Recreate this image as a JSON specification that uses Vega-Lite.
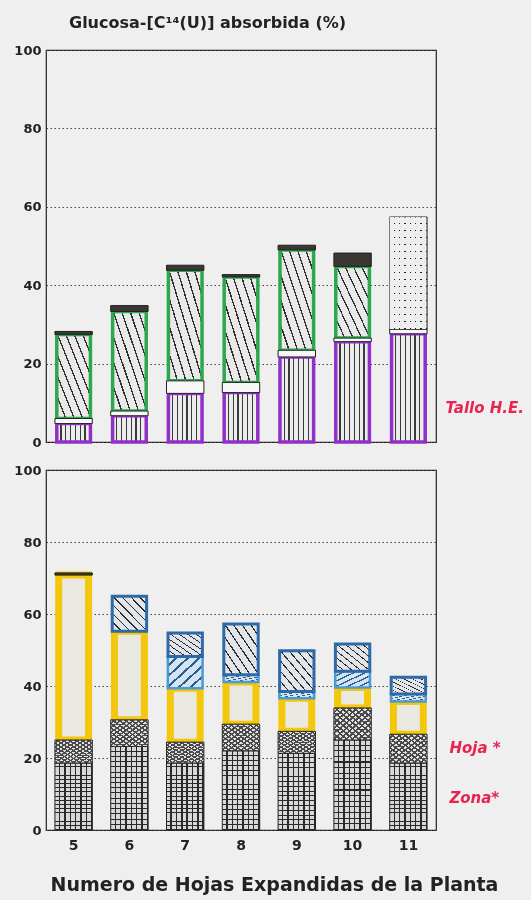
{
  "$schema": "https://vega.github.io/schema/vega-lite/v6.json",
  "background": "#efefef",
  "padding": {"left": 13, "top": 14, "right": 6, "bottom": 5},
  "bounds": "flush",
  "spacing": 28,
  "config": {
    "font": "DejaVu Sans",
    "view": {"stroke": "#222222", "strokeWidth": 1.2},
    "axisY": {"grid": true, "gridDash": [1.5, 2.5], "gridColor": "#444444", "gridWidth": 1, "domain": false, "ticks": false, "tickCount": 5, "labelFont": "DejaVu Sans", "labelFontSize": 13, "labelFontWeight": "bold", "labelColor": "#222222", "labelPadding": 5},
    "axisX": {"domain": false, "ticks": false, "grid": false, "labelFont": "DejaVu Sans", "labelFontSize": 14, "labelFontWeight": "bold", "labelColor": "#222222", "labelPadding": 8, "labelAngle": 0, "titleFont": "DejaVu Sans", "titleFontSize": 19, "titleFontWeight": "bold", "titleColor": "#222222", "titlePadding": 23}
  },
  "datasets": {
    "arriba": [
      {"hojas": 5, "comp": "vertical", "orden": 1, "valor": 4.7},
      {"hojas": 5, "comp": "blanco", "orden": 2, "valor": 1.3},
      {"hojas": 5, "comp": "diagonal", "orden": 3, "valor": 21.4},
      {"hojas": 5, "comp": "negro", "orden": 5, "valor": 0.8},
      {"hojas": 6, "comp": "vertical", "orden": 1, "valor": 6.7},
      {"hojas": 6, "comp": "blanco", "orden": 2, "valor": 1.2},
      {"hojas": 6, "comp": "diagonal", "orden": 3, "valor": 25.4},
      {"hojas": 6, "comp": "negro", "orden": 5, "valor": 1.5},
      {"hojas": 7, "comp": "vertical", "orden": 1, "valor": 12.4},
      {"hojas": 7, "comp": "blanco", "orden": 2, "valor": 3.2},
      {"hojas": 7, "comp": "diagonal", "orden": 3, "valor": 28.2},
      {"hojas": 7, "comp": "negro", "orden": 5, "valor": 1.3},
      {"hojas": 8, "comp": "vertical", "orden": 1, "valor": 12.6},
      {"hojas": 8, "comp": "blanco", "orden": 2, "valor": 2.6},
      {"hojas": 8, "comp": "diagonal", "orden": 3, "valor": 26.9},
      {"hojas": 8, "comp": "negro", "orden": 5, "valor": 0.6},
      {"hojas": 9, "comp": "vertical", "orden": 1, "valor": 21.7},
      {"hojas": 9, "comp": "blanco", "orden": 2, "valor": 1.7},
      {"hojas": 9, "comp": "diagonal", "orden": 3, "valor": 25.6},
      {"hojas": 9, "comp": "negro", "orden": 5, "valor": 1.2},
      {"hojas": 10, "comp": "vertical", "orden": 1, "valor": 25.6},
      {"hojas": 10, "comp": "blanco", "orden": 2, "valor": 0.9},
      {"hojas": 10, "comp": "diagonal", "orden": 3, "valor": 18.3},
      {"hojas": 10, "comp": "negro", "orden": 5, "valor": 3.4},
      {"hojas": 11, "comp": "vertical", "orden": 1, "valor": 27.6},
      {"hojas": 11, "comp": "blanco", "orden": 2, "valor": 1.2},
      {"hojas": 11, "comp": "punteado", "orden": 4, "valor": 28.6}
    ],
    "abajo": [
      {"hojas": 5, "comp": "cuadricula", "orden": 1, "valor": 18.6},
      {"hojas": 5, "comp": "tramado", "orden": 2, "valor": 6.4},
      {"hojas": 5, "comp": "amarillo", "orden": 3, "valor": 45.8},
      {"hojas": 5, "comp": "negro", "orden": 6, "valor": 0.6},
      {"hojas": 6, "comp": "cuadricula", "orden": 1, "valor": 23.2},
      {"hojas": 6, "comp": "tramado", "orden": 2, "valor": 7.4},
      {"hojas": 6, "comp": "amarillo", "orden": 3, "valor": 24.6},
      {"hojas": 6, "comp": "azul", "orden": 5, "valor": 9.7},
      {"hojas": 7, "comp": "cuadricula", "orden": 1, "valor": 18.6},
      {"hojas": 7, "comp": "tramado", "orden": 2, "valor": 5.8},
      {"hojas": 7, "comp": "amarillo", "orden": 3, "valor": 15.0},
      {"hojas": 7, "comp": "celeste", "orden": 4, "valor": 8.8},
      {"hojas": 7, "comp": "azul", "orden": 5, "valor": 6.5},
      {"hojas": 8, "comp": "cuadricula", "orden": 1, "valor": 22.0},
      {"hojas": 8, "comp": "tramado", "orden": 2, "valor": 7.4},
      {"hojas": 8, "comp": "amarillo", "orden": 3, "valor": 11.7},
      {"hojas": 8, "comp": "celeste", "orden": 4, "valor": 2.0},
      {"hojas": 8, "comp": "azul", "orden": 5, "valor": 14.1},
      {"hojas": 9, "comp": "cuadricula", "orden": 1, "valor": 21.3},
      {"hojas": 9, "comp": "tramado", "orden": 2, "valor": 6.1},
      {"hojas": 9, "comp": "amarillo", "orden": 3, "valor": 9.2},
      {"hojas": 9, "comp": "celeste", "orden": 4, "valor": 1.9},
      {"hojas": 9, "comp": "azul", "orden": 5, "valor": 11.3},
      {"hojas": 10, "comp": "cuadricula", "orden": 1, "valor": 25.0},
      {"hojas": 10, "comp": "tramado", "orden": 2, "valor": 8.9},
      {"hojas": 10, "comp": "amarillo", "orden": 3, "valor": 5.7},
      {"hojas": 10, "comp": "celeste", "orden": 4, "valor": 4.5},
      {"hojas": 10, "comp": "azul", "orden": 5, "valor": 7.6},
      {"hojas": 11, "comp": "cuadricula", "orden": 1, "valor": 18.6},
      {"hojas": 11, "comp": "tramado", "orden": 2, "valor": 8.0},
      {"hojas": 11, "comp": "amarillo", "orden": 3, "valor": 9.1},
      {"hojas": 11, "comp": "celeste", "orden": 4, "valor": 2.1},
      {"hojas": 11, "comp": "azul", "orden": 5, "valor": 4.6}
    ]
  },
  "vconcat": [
    {
      "width": 390,
      "height": 392,
      "title": {"text": "Glucosa-[C¹⁴(U)] absorbida (%)", "anchor": "start", "frame": "group", "dx": 23, "offset": 0, "baseline": "alphabetic", "font": "DejaVu Sans", "fontSize": 16, "fontWeight": "bold", "color": "#222222"},
      "encoding": {"x": {"field": "hojas", "type": "ordinal", "scale": {"paddingInner": 0.33, "paddingOuter": 0.16}, "axis": null}},
      "layer": [
        {
          "data": {"name": "arriba"},
          "transform": [{"stack": "valor", "groupby": ["hojas"], "sort": [{"field": "orden", "order": "ascending"}], "as": ["y0", "y1"]}, {"filter": "datum.comp === 'vertical'"}],
          "mark": {"type": "bar", "width": {"band": 0.9}, "stroke": "#9130c8", "strokeWidth": 3.5,
            "fill": {"gradient": "linear", "x1": 0, "y1": 0, "x2": 1, "y2": 0, "stops": [{"offset":0,"color":"#ececec"},{"offset":0.105,"color":"#ececec"},{"offset":0.105,"color":"#3a3a3a"},{"offset":0.1429,"color":"#3a3a3a"},{"offset":0.1429,"color":"#ececec"},{"offset":0.2479,"color":"#ececec"},{"offset":0.2479,"color":"#3a3a3a"},{"offset":0.2857,"color":"#3a3a3a"},{"offset":0.2857,"color":"#ececec"},{"offset":0.3907,"color":"#ececec"},{"offset":0.3907,"color":"#3a3a3a"},{"offset":0.4286,"color":"#3a3a3a"},{"offset":0.4286,"color":"#ececec"},{"offset":0.5336,"color":"#ececec"},{"offset":0.5336,"color":"#3a3a3a"},{"offset":0.5714,"color":"#3a3a3a"},{"offset":0.5714,"color":"#ececec"},{"offset":0.6764,"color":"#ececec"},{"offset":0.6764,"color":"#3a3a3a"},{"offset":0.7143,"color":"#3a3a3a"},{"offset":0.7143,"color":"#ececec"},{"offset":0.8193,"color":"#ececec"},{"offset":0.8193,"color":"#3a3a3a"},{"offset":0.8571,"color":"#3a3a3a"},{"offset":0.8571,"color":"#ececec"},{"offset":0.9621,"color":"#ececec"},{"offset":0.9621,"color":"#3a3a3a"},{"offset":1,"color":"#3a3a3a"}]}},
          "encoding": {"y": {"field": "y1", "type": "quantitative", "scale": {"domain": [0, 100], "nice": false}, "axis": {"title": null}}, "y2": {"field": "y0"}}
        },
        {
          "data": {"name": "arriba"},
          "transform": [{"stack": "valor", "groupby": ["hojas"], "sort": [{"field": "orden", "order": "ascending"}], "as": ["y0", "y1"]}, {"filter": "datum.comp === 'diagonal'"}],
          "mark": {"type": "bar", "width": {"band": 0.9}, "stroke": "#2ea84e", "strokeWidth": 3.5,
            "fill": {"gradient": "linear", "x1": 1, "y1": 0, "x2": 0, "y2": 1, "stops": [{"offset":0,"color":"#e9e9e9"},{"offset":0.104,"color":"#e9e9e9"},{"offset":0.104,"color":"#303030"},{"offset":0.125,"color":"#303030"},{"offset":0.125,"color":"#e9e9e9"},{"offset":0.229,"color":"#e9e9e9"},{"offset":0.229,"color":"#303030"},{"offset":0.25,"color":"#303030"},{"offset":0.25,"color":"#e9e9e9"},{"offset":0.354,"color":"#e9e9e9"},{"offset":0.354,"color":"#303030"},{"offset":0.375,"color":"#303030"},{"offset":0.375,"color":"#e9e9e9"},{"offset":0.479,"color":"#e9e9e9"},{"offset":0.479,"color":"#303030"},{"offset":0.5,"color":"#303030"},{"offset":0.5,"color":"#e9e9e9"},{"offset":0.604,"color":"#e9e9e9"},{"offset":0.604,"color":"#303030"},{"offset":0.625,"color":"#303030"},{"offset":0.625,"color":"#e9e9e9"},{"offset":0.729,"color":"#e9e9e9"},{"offset":0.729,"color":"#303030"},{"offset":0.75,"color":"#303030"},{"offset":0.75,"color":"#e9e9e9"},{"offset":0.854,"color":"#e9e9e9"},{"offset":0.854,"color":"#303030"},{"offset":0.875,"color":"#303030"},{"offset":0.875,"color":"#e9e9e9"},{"offset":0.979,"color":"#e9e9e9"},{"offset":0.979,"color":"#303030"},{"offset":1,"color":"#303030"}]}},
          "encoding": {"y": {"field": "y1", "type": "quantitative", "scale": {"domain": [0, 100], "nice": false}, "axis": {"title": null}}, "y2": {"field": "y0"}}
        },
        {
          "data": {"name": "arriba"},
          "transform": [{"stack": "valor", "groupby": ["hojas"], "sort": [{"field": "orden", "order": "ascending"}], "as": ["y0", "y1"]}, {"filter": "datum.comp === 'blanco'"}],
          "mark": {"type": "bar", "fill": "#f7f7f7", "stroke": "#222222", "strokeWidth": 1},
          "encoding": {"y": {"field": "y1", "type": "quantitative", "scale": {"domain": [0, 100], "nice": false}, "axis": {"title": null}}, "y2": {"field": "y0"}}
        },
        {
          "data": {"name": "arriba"},
          "transform": [{"stack": "valor", "groupby": ["hojas"], "sort": [{"field": "orden", "order": "ascending"}], "as": ["y0", "y1"]}, {"filter": "datum.comp === 'punteado'"}],
          "mark": {"type": "bar", "stroke": "#222222", "strokeWidth": 1,
            "fill": {"gradient": "linear", "x1": 0, "y1": 0, "x2": 0, "y2": 1, "stops": [{"offset":0,"color":"#eeeeee"},{"offset":0.05,"color":"#eeeeee"},{"offset":0.05,"color":"#1e1e1e"},{"offset":0.0625,"color":"#1e1e1e"},{"offset":0.0625,"color":"#eeeeee"},{"offset":0.1125,"color":"#eeeeee"},{"offset":0.1125,"color":"#1e1e1e"},{"offset":0.125,"color":"#1e1e1e"},{"offset":0.125,"color":"#eeeeee"},{"offset":0.175,"color":"#eeeeee"},{"offset":0.175,"color":"#1e1e1e"},{"offset":0.1875,"color":"#1e1e1e"},{"offset":0.1875,"color":"#eeeeee"},{"offset":0.2375,"color":"#eeeeee"},{"offset":0.2375,"color":"#1e1e1e"},{"offset":0.25,"color":"#1e1e1e"},{"offset":0.25,"color":"#eeeeee"},{"offset":0.3,"color":"#eeeeee"},{"offset":0.3,"color":"#1e1e1e"},{"offset":0.3125,"color":"#1e1e1e"},{"offset":0.3125,"color":"#eeeeee"},{"offset":0.3625,"color":"#eeeeee"},{"offset":0.3625,"color":"#1e1e1e"},{"offset":0.375,"color":"#1e1e1e"},{"offset":0.375,"color":"#eeeeee"},{"offset":0.425,"color":"#eeeeee"},{"offset":0.425,"color":"#1e1e1e"},{"offset":0.4375,"color":"#1e1e1e"},{"offset":0.4375,"color":"#eeeeee"},{"offset":0.4875,"color":"#eeeeee"},{"offset":0.4875,"color":"#1e1e1e"},{"offset":0.5,"color":"#1e1e1e"},{"offset":0.5,"color":"#eeeeee"},{"offset":0.55,"color":"#eeeeee"},{"offset":0.55,"color":"#1e1e1e"},{"offset":0.5625,"color":"#1e1e1e"},{"offset":0.5625,"color":"#eeeeee"},{"offset":0.6125,"color":"#eeeeee"},{"offset":0.6125,"color":"#1e1e1e"},{"offset":0.625,"color":"#1e1e1e"},{"offset":0.625,"color":"#eeeeee"},{"offset":0.675,"color":"#eeeeee"},{"offset":0.675,"color":"#1e1e1e"},{"offset":0.6875,"color":"#1e1e1e"},{"offset":0.6875,"color":"#eeeeee"},{"offset":0.7375,"color":"#eeeeee"},{"offset":0.7375,"color":"#1e1e1e"},{"offset":0.75,"color":"#1e1e1e"},{"offset":0.75,"color":"#eeeeee"},{"offset":0.8,"color":"#eeeeee"},{"offset":0.8,"color":"#1e1e1e"},{"offset":0.8125,"color":"#1e1e1e"},{"offset":0.8125,"color":"#eeeeee"},{"offset":0.8625,"color":"#eeeeee"},{"offset":0.8625,"color":"#1e1e1e"},{"offset":0.875,"color":"#1e1e1e"},{"offset":0.875,"color":"#eeeeee"},{"offset":0.925,"color":"#eeeeee"},{"offset":0.925,"color":"#1e1e1e"},{"offset":0.9375,"color":"#1e1e1e"},{"offset":0.9375,"color":"#eeeeee"},{"offset":0.9875,"color":"#eeeeee"},{"offset":0.9875,"color":"#1e1e1e"},{"offset":1,"color":"#1e1e1e"}]}},
          "encoding": {"y": {"field": "y1", "type": "quantitative", "scale": {"domain": [0, 100], "nice": false}, "axis": {"title": null}}, "y2": {"field": "y0"}}
        },
        {
          "data": {"name": "arriba"},
          "transform": [{"stack": "valor", "groupby": ["hojas"], "sort": [{"field": "orden", "order": "ascending"}], "as": ["y0", "y1"]}, {"filter": "datum.comp === 'punteado'"}],
          "mark": {"type": "bar", "blend": "lighten",
            "fill": {"gradient": "linear", "x1": 0, "y1": 0, "x2": 1, "y2": 0, "stops": [{"offset":0,"color":"#eeeeee"},{"offset":0.105,"color":"#eeeeee"},{"offset":0.105,"color":"#1e1e1e"},{"offset":0.1429,"color":"#1e1e1e"},{"offset":0.1429,"color":"#eeeeee"},{"offset":0.2479,"color":"#eeeeee"},{"offset":0.2479,"color":"#1e1e1e"},{"offset":0.2857,"color":"#1e1e1e"},{"offset":0.2857,"color":"#eeeeee"},{"offset":0.3907,"color":"#eeeeee"},{"offset":0.3907,"color":"#1e1e1e"},{"offset":0.4286,"color":"#1e1e1e"},{"offset":0.4286,"color":"#eeeeee"},{"offset":0.5336,"color":"#eeeeee"},{"offset":0.5336,"color":"#1e1e1e"},{"offset":0.5714,"color":"#1e1e1e"},{"offset":0.5714,"color":"#eeeeee"},{"offset":0.6764,"color":"#eeeeee"},{"offset":0.6764,"color":"#1e1e1e"},{"offset":0.7143,"color":"#1e1e1e"},{"offset":0.7143,"color":"#eeeeee"},{"offset":0.8193,"color":"#eeeeee"},{"offset":0.8193,"color":"#1e1e1e"},{"offset":0.8571,"color":"#1e1e1e"},{"offset":0.8571,"color":"#eeeeee"},{"offset":0.9621,"color":"#eeeeee"},{"offset":0.9621,"color":"#1e1e1e"},{"offset":1,"color":"#1e1e1e"}]}},
          "encoding": {"y": {"field": "y1", "type": "quantitative", "scale": {"domain": [0, 100], "nice": false}, "axis": {"title": null}}, "y2": {"field": "y0"}}
        },
        {
          "data": {"name": "arriba"},
          "transform": [{"stack": "valor", "groupby": ["hojas"], "sort": [{"field": "orden", "order": "ascending"}], "as": ["y0", "y1"]}, {"filter": "datum.comp === 'negro'"}],
          "mark": {"type": "bar", "fill": "#3b3633", "stroke": "#222222", "strokeWidth": 1},
          "encoding": {"y": {"field": "y1", "type": "quantitative", "scale": {"domain": [0, 100], "nice": false}, "axis": {"title": null}}, "y2": {"field": "y0"}}
        },
        {
          "data": {"values": [{"hojas": 11, "valor": 8.6, "etiqueta": "Tallo H.E."}]},
          "mark": {"type": "text", "align": "left", "baseline": "middle", "dx": 37, "font": "DejaVu Sans", "fontSize": 15, "fontWeight": "bold", "fontStyle": "italic", "color": "#e8234f"},
          "encoding": {"y": {"field": "valor", "type": "quantitative", "scale": {"domain": [0, 100], "nice": false}, "axis": {"title": null}}, "text": {"field": "etiqueta"}}
        }
      ]
    },
    {
      "width": 390,
      "height": 360,
      "encoding": {"x": {"field": "hojas", "type": "ordinal", "scale": {"paddingInner": 0.33, "paddingOuter": 0.16}, "axis": {"title": "Numero de Hojas Expandidas de la Planta", "titleX": 228}}},
      "layer": [
        {
          "data": {"name": "abajo"},
          "transform": [{"stack": "valor", "groupby": ["hojas"], "sort": [{"field": "orden", "order": "ascending"}], "as": ["y0", "y1"]}, {"filter": "datum.comp === 'amarillo'"}],
          "mark": {"type": "bar", "width": {"band": 0.8}, "fill": "#e9e8e1", "stroke": "#f2c70c", "strokeWidth": 7},
          "encoding": {"y": {"field": "y1", "type": "quantitative", "scale": {"domain": [0, 100], "nice": false}, "axis": {"title": null}}, "y2": {"field": "y0"}}
        },
        {
          "data": {"name": "abajo"},
          "transform": [{"stack": "valor", "groupby": ["hojas"], "sort": [{"field": "orden", "order": "ascending"}], "as": ["y0", "y1"]}, {"filter": "datum.comp === 'cuadricula'"}],
          "mark": {"type": "bar", "stroke": "#222222", "strokeWidth": 1,
            "fill": {"gradient": "linear", "x1": 0, "y1": 0, "x2": 1, "y2": 0, "stops": [{"offset":0,"color":"#d8d8d8"},{"offset":0.105,"color":"#d8d8d8"},{"offset":0.105,"color":"#2a2a2a"},{"offset":0.1429,"color":"#2a2a2a"},{"offset":0.1429,"color":"#d8d8d8"},{"offset":0.2479,"color":"#d8d8d8"},{"offset":0.2479,"color":"#2a2a2a"},{"offset":0.2857,"color":"#2a2a2a"},{"offset":0.2857,"color":"#d8d8d8"},{"offset":0.3907,"color":"#d8d8d8"},{"offset":0.3907,"color":"#2a2a2a"},{"offset":0.4286,"color":"#2a2a2a"},{"offset":0.4286,"color":"#d8d8d8"},{"offset":0.5336,"color":"#d8d8d8"},{"offset":0.5336,"color":"#2a2a2a"},{"offset":0.5714,"color":"#2a2a2a"},{"offset":0.5714,"color":"#d8d8d8"},{"offset":0.6764,"color":"#d8d8d8"},{"offset":0.6764,"color":"#2a2a2a"},{"offset":0.7143,"color":"#2a2a2a"},{"offset":0.7143,"color":"#d8d8d8"},{"offset":0.8193,"color":"#d8d8d8"},{"offset":0.8193,"color":"#2a2a2a"},{"offset":0.8571,"color":"#2a2a2a"},{"offset":0.8571,"color":"#d8d8d8"},{"offset":0.9621,"color":"#d8d8d8"},{"offset":0.9621,"color":"#2a2a2a"},{"offset":1,"color":"#2a2a2a"}]}},
          "encoding": {"y": {"field": "y1", "type": "quantitative", "scale": {"domain": [0, 100], "nice": false}, "axis": {"title": null}}, "y2": {"field": "y0"}}
        },
        {
          "data": {"name": "abajo"},
          "transform": [{"stack": "valor", "groupby": ["hojas"], "sort": [{"field": "orden", "order": "ascending"}], "as": ["y0", "y1"]}, {"filter": "datum.comp === 'cuadricula'"}],
          "mark": {"type": "bar",
            "fill": {"gradient": "linear", "x1": 0, "y1": 0, "x2": 0, "y2": 1, "stops": [{"offset":0,"color":"rgba(0,0,0,0)"},{"offset":0.05,"color":"rgba(0,0,0,0)"},{"offset":0.05,"color":"#2a2a2a"},{"offset":0.0625,"color":"#2a2a2a"},{"offset":0.0625,"color":"rgba(0,0,0,0)"},{"offset":0.1125,"color":"rgba(0,0,0,0)"},{"offset":0.1125,"color":"#2a2a2a"},{"offset":0.125,"color":"#2a2a2a"},{"offset":0.125,"color":"rgba(0,0,0,0)"},{"offset":0.175,"color":"rgba(0,0,0,0)"},{"offset":0.175,"color":"#2a2a2a"},{"offset":0.1875,"color":"#2a2a2a"},{"offset":0.1875,"color":"rgba(0,0,0,0)"},{"offset":0.2375,"color":"rgba(0,0,0,0)"},{"offset":0.2375,"color":"#2a2a2a"},{"offset":0.25,"color":"#2a2a2a"},{"offset":0.25,"color":"rgba(0,0,0,0)"},{"offset":0.3,"color":"rgba(0,0,0,0)"},{"offset":0.3,"color":"#2a2a2a"},{"offset":0.3125,"color":"#2a2a2a"},{"offset":0.3125,"color":"rgba(0,0,0,0)"},{"offset":0.3625,"color":"rgba(0,0,0,0)"},{"offset":0.3625,"color":"#2a2a2a"},{"offset":0.375,"color":"#2a2a2a"},{"offset":0.375,"color":"rgba(0,0,0,0)"},{"offset":0.425,"color":"rgba(0,0,0,0)"},{"offset":0.425,"color":"#2a2a2a"},{"offset":0.4375,"color":"#2a2a2a"},{"offset":0.4375,"color":"rgba(0,0,0,0)"},{"offset":0.4875,"color":"rgba(0,0,0,0)"},{"offset":0.4875,"color":"#2a2a2a"},{"offset":0.5,"color":"#2a2a2a"},{"offset":0.5,"color":"rgba(0,0,0,0)"},{"offset":0.55,"color":"rgba(0,0,0,0)"},{"offset":0.55,"color":"#2a2a2a"},{"offset":0.5625,"color":"#2a2a2a"},{"offset":0.5625,"color":"rgba(0,0,0,0)"},{"offset":0.6125,"color":"rgba(0,0,0,0)"},{"offset":0.6125,"color":"#2a2a2a"},{"offset":0.625,"color":"#2a2a2a"},{"offset":0.625,"color":"rgba(0,0,0,0)"},{"offset":0.675,"color":"rgba(0,0,0,0)"},{"offset":0.675,"color":"#2a2a2a"},{"offset":0.6875,"color":"#2a2a2a"},{"offset":0.6875,"color":"rgba(0,0,0,0)"},{"offset":0.7375,"color":"rgba(0,0,0,0)"},{"offset":0.7375,"color":"#2a2a2a"},{"offset":0.75,"color":"#2a2a2a"},{"offset":0.75,"color":"rgba(0,0,0,0)"},{"offset":0.8,"color":"rgba(0,0,0,0)"},{"offset":0.8,"color":"#2a2a2a"},{"offset":0.8125,"color":"#2a2a2a"},{"offset":0.8125,"color":"rgba(0,0,0,0)"},{"offset":0.8625,"color":"rgba(0,0,0,0)"},{"offset":0.8625,"color":"#2a2a2a"},{"offset":0.875,"color":"#2a2a2a"},{"offset":0.875,"color":"rgba(0,0,0,0)"},{"offset":0.925,"color":"rgba(0,0,0,0)"},{"offset":0.925,"color":"#2a2a2a"},{"offset":0.9375,"color":"#2a2a2a"},{"offset":0.9375,"color":"rgba(0,0,0,0)"},{"offset":0.9875,"color":"rgba(0,0,0,0)"},{"offset":0.9875,"color":"#2a2a2a"},{"offset":1,"color":"#2a2a2a"}]}},
          "encoding": {"y": {"field": "y1", "type": "quantitative", "scale": {"domain": [0, 100], "nice": false}, "axis": {"title": null}}, "y2": {"field": "y0"}}
        },
        {
          "data": {"name": "abajo"},
          "transform": [{"stack": "valor", "groupby": ["hojas"], "sort": [{"field": "orden", "order": "ascending"}], "as": ["y0", "y1"]}, {"filter": "datum.comp === 'tramado'"}],
          "mark": {"type": "bar", "stroke": "#222222", "strokeWidth": 1,
            "fill": {"gradient": "linear", "x1": 1, "y1": 0, "x2": 0, "y2": 1, "stops": [{"offset":0,"color":"#e2e2e2"},{"offset":0.05,"color":"#e2e2e2"},{"offset":0.05,"color":"#4a4a4a"},{"offset":0.0833,"color":"#4a4a4a"},{"offset":0.0833,"color":"#e2e2e2"},{"offset":0.1333,"color":"#e2e2e2"},{"offset":0.1333,"color":"#4a4a4a"},{"offset":0.1667,"color":"#4a4a4a"},{"offset":0.1667,"color":"#e2e2e2"},{"offset":0.2167,"color":"#e2e2e2"},{"offset":0.2167,"color":"#4a4a4a"},{"offset":0.25,"color":"#4a4a4a"},{"offset":0.25,"color":"#e2e2e2"},{"offset":0.3,"color":"#e2e2e2"},{"offset":0.3,"color":"#4a4a4a"},{"offset":0.3333,"color":"#4a4a4a"},{"offset":0.3333,"color":"#e2e2e2"},{"offset":0.3833,"color":"#e2e2e2"},{"offset":0.3833,"color":"#4a4a4a"},{"offset":0.4167,"color":"#4a4a4a"},{"offset":0.4167,"color":"#e2e2e2"},{"offset":0.4667,"color":"#e2e2e2"},{"offset":0.4667,"color":"#4a4a4a"},{"offset":0.5,"color":"#4a4a4a"},{"offset":0.5,"color":"#e2e2e2"},{"offset":0.55,"color":"#e2e2e2"},{"offset":0.55,"color":"#4a4a4a"},{"offset":0.5833,"color":"#4a4a4a"},{"offset":0.5833,"color":"#e2e2e2"},{"offset":0.6333,"color":"#e2e2e2"},{"offset":0.6333,"color":"#4a4a4a"},{"offset":0.6667,"color":"#4a4a4a"},{"offset":0.6667,"color":"#e2e2e2"},{"offset":0.7167,"color":"#e2e2e2"},{"offset":0.7167,"color":"#4a4a4a"},{"offset":0.75,"color":"#4a4a4a"},{"offset":0.75,"color":"#e2e2e2"},{"offset":0.8,"color":"#e2e2e2"},{"offset":0.8,"color":"#4a4a4a"},{"offset":0.8333,"color":"#4a4a4a"},{"offset":0.8333,"color":"#e2e2e2"},{"offset":0.8833,"color":"#e2e2e2"},{"offset":0.8833,"color":"#4a4a4a"},{"offset":0.9167,"color":"#4a4a4a"},{"offset":0.9167,"color":"#e2e2e2"},{"offset":0.9667,"color":"#e2e2e2"},{"offset":0.9667,"color":"#4a4a4a"},{"offset":1,"color":"#4a4a4a"}]}},
          "encoding": {"y": {"field": "y1", "type": "quantitative", "scale": {"domain": [0, 100], "nice": false}, "axis": {"title": null}}, "y2": {"field": "y0"}}
        },
        {
          "data": {"name": "abajo"},
          "transform": [{"stack": "valor", "groupby": ["hojas"], "sort": [{"field": "orden", "order": "ascending"}], "as": ["y0", "y1"]}, {"filter": "datum.comp === 'tramado'"}],
          "mark": {"type": "bar",
            "fill": {"gradient": "linear", "x1": 0, "y1": 0, "x2": 1, "y2": 1, "stops": [{"offset":0,"color":"rgba(0,0,0,0)"},{"offset":0.05,"color":"rgba(0,0,0,0)"},{"offset":0.05,"color":"#4a4a4a"},{"offset":0.0833,"color":"#4a4a4a"},{"offset":0.0833,"color":"rgba(0,0,0,0)"},{"offset":0.1333,"color":"rgba(0,0,0,0)"},{"offset":0.1333,"color":"#4a4a4a"},{"offset":0.1667,"color":"#4a4a4a"},{"offset":0.1667,"color":"rgba(0,0,0,0)"},{"offset":0.2167,"color":"rgba(0,0,0,0)"},{"offset":0.2167,"color":"#4a4a4a"},{"offset":0.25,"color":"#4a4a4a"},{"offset":0.25,"color":"rgba(0,0,0,0)"},{"offset":0.3,"color":"rgba(0,0,0,0)"},{"offset":0.3,"color":"#4a4a4a"},{"offset":0.3333,"color":"#4a4a4a"},{"offset":0.3333,"color":"rgba(0,0,0,0)"},{"offset":0.3833,"color":"rgba(0,0,0,0)"},{"offset":0.3833,"color":"#4a4a4a"},{"offset":0.4167,"color":"#4a4a4a"},{"offset":0.4167,"color":"rgba(0,0,0,0)"},{"offset":0.4667,"color":"rgba(0,0,0,0)"},{"offset":0.4667,"color":"#4a4a4a"},{"offset":0.5,"color":"#4a4a4a"},{"offset":0.5,"color":"rgba(0,0,0,0)"},{"offset":0.55,"color":"rgba(0,0,0,0)"},{"offset":0.55,"color":"#4a4a4a"},{"offset":0.5833,"color":"#4a4a4a"},{"offset":0.5833,"color":"rgba(0,0,0,0)"},{"offset":0.6333,"color":"rgba(0,0,0,0)"},{"offset":0.6333,"color":"#4a4a4a"},{"offset":0.6667,"color":"#4a4a4a"},{"offset":0.6667,"color":"rgba(0,0,0,0)"},{"offset":0.7167,"color":"rgba(0,0,0,0)"},{"offset":0.7167,"color":"#4a4a4a"},{"offset":0.75,"color":"#4a4a4a"},{"offset":0.75,"color":"rgba(0,0,0,0)"},{"offset":0.8,"color":"rgba(0,0,0,0)"},{"offset":0.8,"color":"#4a4a4a"},{"offset":0.8333,"color":"#4a4a4a"},{"offset":0.8333,"color":"rgba(0,0,0,0)"},{"offset":0.8833,"color":"rgba(0,0,0,0)"},{"offset":0.8833,"color":"#4a4a4a"},{"offset":0.9167,"color":"#4a4a4a"},{"offset":0.9167,"color":"rgba(0,0,0,0)"},{"offset":0.9667,"color":"rgba(0,0,0,0)"},{"offset":0.9667,"color":"#4a4a4a"},{"offset":1,"color":"#4a4a4a"}]}},
          "encoding": {"y": {"field": "y1", "type": "quantitative", "scale": {"domain": [0, 100], "nice": false}, "axis": {"title": null}}, "y2": {"field": "y0"}}
        },
        {
          "data": {"name": "abajo"},
          "transform": [{"stack": "valor", "groupby": ["hojas"], "sort": [{"field": "orden", "order": "ascending"}], "as": ["y0", "y1"]}, {"filter": "datum.comp === 'celeste'"}],
          "mark": {"type": "bar", "width": {"band": 0.93}, "stroke": "#4a9ad6", "strokeWidth": 2.5,
            "fill": {"gradient": "linear", "x1": 0, "y1": 0, "x2": 1, "y2": 1, "stops": [{"offset":0,"color":"#d3e4f2"},{"offset":0.125,"color":"#d3e4f2"},{"offset":0.125,"color":"#2c5c8c"},{"offset":0.1667,"color":"#2c5c8c"},{"offset":0.1667,"color":"#d3e4f2"},{"offset":0.2917,"color":"#d3e4f2"},{"offset":0.2917,"color":"#2c5c8c"},{"offset":0.3333,"color":"#2c5c8c"},{"offset":0.3333,"color":"#d3e4f2"},{"offset":0.4583,"color":"#d3e4f2"},{"offset":0.4583,"color":"#2c5c8c"},{"offset":0.5,"color":"#2c5c8c"},{"offset":0.5,"color":"#d3e4f2"},{"offset":0.625,"color":"#d3e4f2"},{"offset":0.625,"color":"#2c5c8c"},{"offset":0.6667,"color":"#2c5c8c"},{"offset":0.6667,"color":"#d3e4f2"},{"offset":0.7917,"color":"#d3e4f2"},{"offset":0.7917,"color":"#2c5c8c"},{"offset":0.8333,"color":"#2c5c8c"},{"offset":0.8333,"color":"#d3e4f2"},{"offset":0.9583,"color":"#d3e4f2"},{"offset":0.9583,"color":"#2c5c8c"},{"offset":1,"color":"#2c5c8c"}]}},
          "encoding": {"y": {"field": "y1", "type": "quantitative", "scale": {"domain": [0, 100], "nice": false}, "axis": {"title": null}}, "y2": {"field": "y0"}}
        },
        {
          "data": {"name": "abajo"},
          "transform": [{"stack": "valor", "groupby": ["hojas"], "sort": [{"field": "orden", "order": "ascending"}], "as": ["y0", "y1"]}, {"filter": "datum.comp === 'azul'"}],
          "mark": {"type": "bar", "width": {"band": 0.92}, "stroke": "#2f6aa8", "strokeWidth": 3,
            "fill": {"gradient": "linear", "x1": 1, "y1": 0, "x2": 0, "y2": 1, "stops": [{"offset":0,"color":"#e2e6ea"},{"offset":0.104,"color":"#e2e6ea"},{"offset":0.104,"color":"#2a2a2a"},{"offset":0.125,"color":"#2a2a2a"},{"offset":0.125,"color":"#e2e6ea"},{"offset":0.229,"color":"#e2e6ea"},{"offset":0.229,"color":"#2a2a2a"},{"offset":0.25,"color":"#2a2a2a"},{"offset":0.25,"color":"#e2e6ea"},{"offset":0.354,"color":"#e2e6ea"},{"offset":0.354,"color":"#2a2a2a"},{"offset":0.375,"color":"#2a2a2a"},{"offset":0.375,"color":"#e2e6ea"},{"offset":0.479,"color":"#e2e6ea"},{"offset":0.479,"color":"#2a2a2a"},{"offset":0.5,"color":"#2a2a2a"},{"offset":0.5,"color":"#e2e6ea"},{"offset":0.604,"color":"#e2e6ea"},{"offset":0.604,"color":"#2a2a2a"},{"offset":0.625,"color":"#2a2a2a"},{"offset":0.625,"color":"#e2e6ea"},{"offset":0.729,"color":"#e2e6ea"},{"offset":0.729,"color":"#2a2a2a"},{"offset":0.75,"color":"#2a2a2a"},{"offset":0.75,"color":"#e2e6ea"},{"offset":0.854,"color":"#e2e6ea"},{"offset":0.854,"color":"#2a2a2a"},{"offset":0.875,"color":"#2a2a2a"},{"offset":0.875,"color":"#e2e6ea"},{"offset":0.979,"color":"#e2e6ea"},{"offset":0.979,"color":"#2a2a2a"},{"offset":1,"color":"#2a2a2a"}]}},
          "encoding": {"y": {"field": "y1", "type": "quantitative", "scale": {"domain": [0, 100], "nice": false}, "axis": {"title": null}}, "y2": {"field": "y0"}}
        },
        {
          "data": {"name": "abajo"},
          "transform": [{"stack": "valor", "groupby": ["hojas"], "sort": [{"field": "orden", "order": "ascending"}], "as": ["y0", "y1"]}, {"filter": "datum.comp === 'negro'"}],
          "mark": {"type": "bar", "fill": "#3b3633", "stroke": "#222222", "strokeWidth": 1},
          "encoding": {"y": {"field": "y1", "type": "quantitative", "scale": {"domain": [0, 100], "nice": false}, "axis": {"title": null}}, "y2": {"field": "y0"}}
        },
        {
          "data": {"values": [{"hojas": 11, "valor": 22.9, "etiqueta": "Hoja *"}, {"hojas": 11, "valor": 9.0, "etiqueta": "Zona*"}]},
          "mark": {"type": "text", "align": "left", "baseline": "middle", "dx": 41, "font": "DejaVu Sans", "fontSize": 15, "fontWeight": "bold", "fontStyle": "italic", "color": "#e8234f"},
          "encoding": {"y": {"field": "valor", "type": "quantitative", "scale": {"domain": [0, 100], "nice": false}, "axis": {"title": null}}, "text": {"field": "etiqueta"}}
        }
      ]
    }
  ]
}
